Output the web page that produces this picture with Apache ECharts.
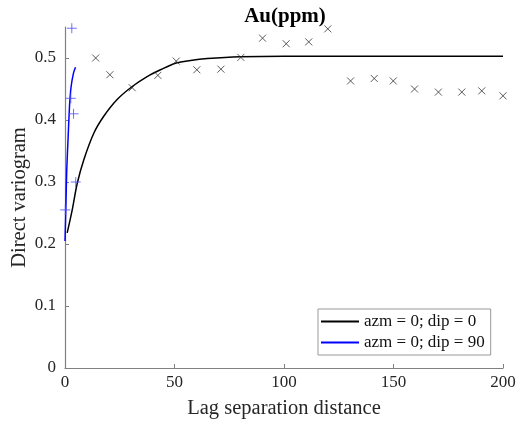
<!DOCTYPE html>
<html>
<head>
<meta charset="utf-8">
<script src="https://cdn.jsdelivr.net/npm/echarts@6/dist/echarts.min.js"></script>
<style>html,body{margin:0;padding:0;background:#fff}#c{width:521px;height:425px}</style>
</head>
<body>
<div id="c"></div>
<script>
// Experimental variogram, azm = 0; dip = 0
var lagH = [14, 20.5, 30.7, 42.4, 50.8, 60.2, 71.2, 80.3, 90.2, 101, 111.3, 120, 130.4, 141.2, 149.9, 159.6, 170.5, 181.2, 190.3, 200];
var gamH = [0.500, 0.473, 0.452, 0.472, 0.495, 0.481, 0.482, 0.501, 0.532, 0.523, 0.526, 0.547, 0.463, 0.467, 0.463, 0.450, 0.445, 0.445, 0.447, 0.439];
// Model curve, azm = 0; dip = 0
var modelHx = [1.0, 3.3, 5.6, 8.6, 13.2, 17.7, 23.8, 30.7, 37.5, 43.6, 50.8, 57.3, 65, 80, 100, 150, 200];
var modelHy = [0.218, 0.255, 0.298, 0.336, 0.379, 0.406, 0.433, 0.454, 0.470, 0.481, 0.492, 0.496, 0.499, 0.502, 0.503, 0.503, 0.503];
// Experimental variogram, azm = 0; dip = 90
var lagV = [0.1, 2.65, 3.9, 4.9, 3.1];
var gamV = [0.255, 0.435, 0.410, 0.300, 0.548];
// Model curve, azm = 0; dip = 90
var modelVx = [0, 0.1, 0.4, 0.8, 1.45, 2.05, 2.8, 3.9, 4.8];
var modelVy = [0.205, 0.218, 0.260, 0.320, 0.374, 0.422, 0.454, 0.476, 0.485];
// Ticks
var xTicks = [0, 50, 100, 150, 200];
var yTicks = [0, 0.1, 0.2, 0.3, 0.4, 0.5];
var seriesNames = ['azm = 0; dip = 0', 'azm = 0; dip = 90'];

function zip(a, b) { return a.map(function (v, i) { return [v, b[i]]; }); }

var font = 'Liberation Serif';
var chart = echarts.init(document.getElementById('c'), null, { renderer: 'canvas' });
chart.setOption({
  animation: false,
  backgroundColor: '#fff',
  title: {
    text: 'Au(ppm)', left: 280, textAlign: 'center', top: 1,
    textStyle: { fontFamily: font, fontWeight: 'bold', fontSize: 21, color: '#000' }
  },
  grid: { left: 65, right: 18, top: 27, bottom: 57, containLabel: false, outerBoundsMode: 'none' },
  legend: {
    data: seriesNames, orient: 'vertical', left: 318, top: 309,
    padding: [4, 6, 4, 3], itemGap: 4, itemWidth: 38, itemHeight: 2, icon: 'rect',
    backgroundColor: '#fff', borderColor: '#999', borderWidth: 1, borderRadius: 0,
    textStyle: { fontFamily: font, fontSize: 17, color: '#111' }
  },
  xAxis: {
    type: 'value', min: 0, max: 200, interval: 50,
    name: 'Lag separation distance', nameLocation: 'middle', nameGap: 30, nameMoveOverlap: false,
    nameTextStyle: { fontFamily: font, fontSize: 20.5, color: '#262626' },
    axisLine: { lineStyle: { color: '#808080', width: 1.2 } },
    axisTick: { inside: true, length: 4, lineStyle: { color: '#808080' }, customValues: xTicks },
    axisLabel: { fontFamily: font, fontSize: 17, color: '#262626', margin: 6, customValues: xTicks },
    splitLine: { show: false }
  },
  yAxis: {
    type: 'value', min: 0, max: 0.55,
    name: 'Direct variogram', nameLocation: 'middle', nameGap: 35, nameRotate: 90, nameMoveOverlap: false,
    nameTextStyle: { fontFamily: font, fontSize: 20.5, color: '#262626' },
    axisLine: { show: true, lineStyle: { color: '#808080', width: 1.2 } },
    axisTick: { show: true, inside: true, length: 4, lineStyle: { color: '#808080' }, customValues: yTicks },
    axisLabel: { fontFamily: font, fontSize: 17, color: '#262626', margin: 9, customValues: yTicks },
    splitLine: { show: false }
  },
  series: [
    {
      name: seriesNames[0], type: 'line', data: zip(modelHx, modelHy), smooth: 0.35,
      showSymbol: false, symbol: 'none', lineStyle: { color: '#000', width: 1.5 }, itemStyle: { color: '#000' }, z: 3
    },
    {
      name: seriesNames[1], type: 'line', data: zip(modelVx, modelVy), smooth: 0.2,
      showSymbol: false, symbol: 'none', lineStyle: { color: '#0000ff', width: 1.5 }, itemStyle: { color: '#0000ff' }, z: 3
    },
    {
      name: 'exp0', type: 'scatter', data: zip(lagH, gamH),
      symbol: 'path://M0,0L10,10M10,0L0,10', symbolSize: 7,
      itemStyle: { color: 'rgba(0,0,0,0)', borderColor: '#333', borderWidth: 1 }, z: 4
    },
    {
      name: 'exp90', type: 'scatter', data: zip(lagV, gamV),
      symbol: 'path://M5,0L5,10M0,5L10,5', symbolSize: 10,
      itemStyle: { color: 'rgba(0,0,0,0)', borderColor: '#4d4dff', borderWidth: 1 }, z: 4
    }
  ]
});
</script>
</body>
</html>
